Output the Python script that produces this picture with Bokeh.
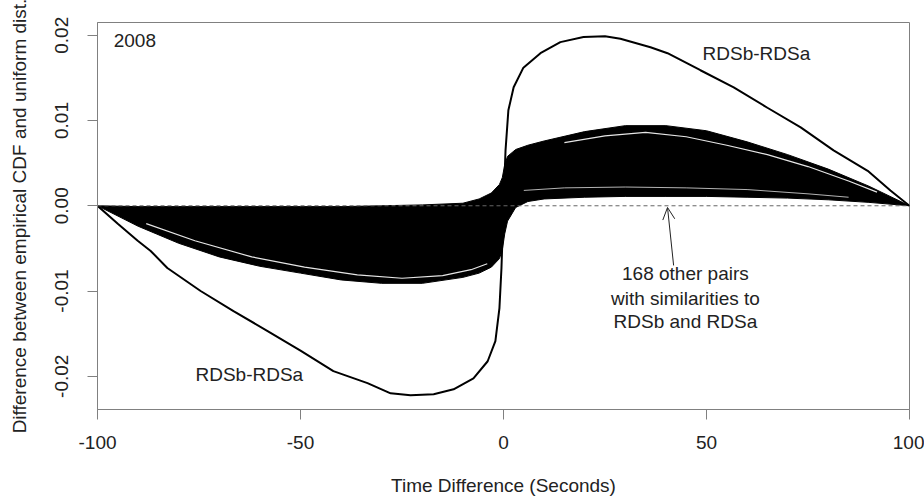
from bokeh.plotting import figure
from bokeh.models import Range1d, FixedTicker, Arrow, OpenHead, Span
from bokeh.core.properties import value
from bokeh.embed import file_html
from bokeh.resources import INLINE

# ---------------- data ----------------
# RDSb-RDSa difference curve
main_x = [-100, -95, -90.1, -86.9, -82.8, -74.6, -66.5, -58.1, -50, -41.9, -33.5, -27.8,
          -22.9, -17.2, -12.3, -7.4, -3.9, -2.0, -1.0, -0.5, 0, 0.5, 1.2, 2.5, 4.9, 9.1,
          14.0, 19.7, 25, 28.8, 36.2, 40.4, 48.5, 56.7, 65.0, 73.2, 81.3, 89.7, 95.3, 100]
main_y = [0, -0.0021, -0.0041, -0.0053, -0.0073, -0.0100, -0.01235, -0.0147, -0.0170,
          -0.0194, -0.0208, -0.0220, -0.02224, -0.0221, -0.02153, -0.02024, -0.01824,
          -0.01588, -0.0120, -0.0073, 0, 0.0065, 0.0112, 0.0139, 0.0162, 0.0179, 0.0192,
          0.0198, 0.0199, 0.0196, 0.0186, 0.0179, 0.0159, 0.0139, 0.0115, 0.0092, 0.0065,
          0.0041, 0.0018, 0]

# envelope of the 168 other pairs (dense band)
band_x = [-100, -90, -80, -70, -60, -50, -40, -30, -20, -10, -6, -3, -1, -0.3, 0.3, 1, 3,
          6, 10, 20, 30, 40, 50, 60, 70, 80, 90, 100]
band_lower = [0, -0.0024, -0.0044, -0.0060, -0.0071, -0.0079, -0.0087, -0.0091, -0.0091,
              -0.0084, -0.0079, -0.0072, -0.0062, -0.0052, -0.0033, -0.0018, -0.0002,
              0.0005, 0.0008, 0.0010, 0.0011, 0.0011, 0.0011, 0.0010, 0.0009, 0.0007,
              0.0004, 0]
band_upper = [0, -0.0001, -0.0001, -0.0001, -0.0001, -0.0001, -0.0001, 0.0, 0.0001,
              0.0003, 0.0008, 0.0015, 0.0025, 0.0033, 0.0048, 0.0058, 0.0066, 0.0071,
              0.0076, 0.0087, 0.0094, 0.0094, 0.0088, 0.0075, 0.0060, 0.0043, 0.0023, 0]

# light streaks visible inside the band
streak_left_x = [-88, -76, -62, -49, -36, -25, -15, -8, -4]
streak_left_y = [-0.0021, -0.0041, -0.0060, -0.0072, -0.0081, -0.0085, -0.0082, -0.0075, -0.0068]
streak_top_x = [15, 25, 35, 45, 55, 65, 75, 85, 92]
streak_top_y = [0.0074, 0.0082, 0.0086, 0.0081, 0.0071, 0.0060, 0.0046, 0.0029, 0.0016]
streak_bot_x = [5, 15, 30, 45, 60, 75, 85]
streak_bot_y = [0.0018, 0.0021, 0.0022, 0.0021, 0.0019, 0.0014, 0.0010]

x_ticks = [-100, -50, 0, 50, 100]
x_tick_labels = ["-100", "-50", "0", "50", "100"]
y_ticks = [-0.02, -0.01, 0.0, 0.01, 0.02]
y_tick_labels = ["-0.02", "-0.01", "0.00", "0.01", "0.02"]

note_lines = ["168 other pairs", "with similarities to", "RDSb and RDSa"]

# ---------------- figure ----------------
FONT = "Liberation Sans"
FS = "19px"
TXT = "#222222"
GRAY = "#808080"

p = figure(frame_width=812, frame_height=387,
           x_range=Range1d(-100, 100), y_range=Range1d(-0.0239, 0.0215),
           output_backend="svg", toolbar_location=None,
           min_border_left=97, min_border_right=15, min_border_top=22, min_border_bottom=89)
p.grid.visible = False
p.outline_line_color = GRAY
p.outline_line_width = 1
p.background_fill_color = "white"
p.border_fill_color = "white"

for ax in (p.xaxis[0], p.yaxis[0]):
    ax.axis_line_color = GRAY
    ax.major_tick_line_color = GRAY
    ax.minor_tick_line_color = None
    ax.major_tick_in = 0
    ax.major_tick_out = 10
    ax.major_label_text_font = FONT
    ax.major_label_text_font_size = FS
    ax.major_label_text_color = TXT
    ax.axis_label_text_font = FONT
    ax.axis_label_text_font_size = FS
    ax.axis_label_text_font_style = "normal"
    ax.axis_label_text_color = TXT

p.xaxis.ticker = FixedTicker(ticks=x_ticks)
p.xaxis.major_label_overrides = dict(zip(x_ticks, x_tick_labels))
p.xaxis.major_label_standoff = 16
p.xaxis.axis_label = "Time Difference (Seconds)"
p.xaxis.axis_label_standoff = 23

p.yaxis.ticker = FixedTicker(ticks=y_ticks)
p.yaxis.major_label_overrides = dict(zip(y_ticks, y_tick_labels))
p.yaxis.major_label_orientation = "parallel"
p.yaxis.major_label_standoff = 19
p.yaxis.axis_label = "Difference between empirical CDF and uniform dist."
p.yaxis.axis_label_standoff = 23

# band of 168 other pairs
p.varea(x=band_x, y1=band_lower, y2=band_upper, fill_color="black")
p.line(band_x, band_lower, line_color="black", line_width=1)
p.line(band_x, band_upper, line_color="black", line_width=1)
p.line(streak_left_x, streak_left_y, line_color="white", line_width=1.2, line_alpha=0.9)
p.line(streak_top_x, streak_top_y, line_color="white", line_width=1.2, line_alpha=0.9)
p.line(streak_bot_x, streak_bot_y, line_color="white", line_width=1, line_alpha=0.7)

# zero reference line
p.add_layout(Span(location=0, dimension="width", line_color="#666666",
                  line_dash="4 3", line_width=1))

# RDSb-RDSa
p.line(main_x, main_y, line_color="black", line_width=2)

# texts
p.text(x=[-96], y=[0.0194], text=["2008"], text_font=value(FONT), text_font_size=FS,
       text_color=TXT, text_align="left", text_baseline="middle")
p.text(x=[62.3, -62.6], y=[0.0179, -0.0198], text=["RDSb-RDSa", "RDSb-RDSa"],
       text_font=value(FONT), text_font_size=FS, text_color=TXT,
       text_align="center", text_baseline="middle")
p.text(x=[44.8, 44.8, 44.8], y=[-0.0080, -0.01082, -0.01353], text=note_lines,
       text_font=value(FONT), text_font_size=FS, text_color=TXT,
       text_align="center", text_baseline="middle")

p.add_layout(Arrow(end=OpenHead(size=12, line_width=1, line_color="#222222"),
                   x_start=41.9, y_start=-0.0070, x_end=40.4, y_end=-0.0002,
                   line_width=1, line_color="#222222"))

open("out.html", "w").write(file_html(p, INLINE))
